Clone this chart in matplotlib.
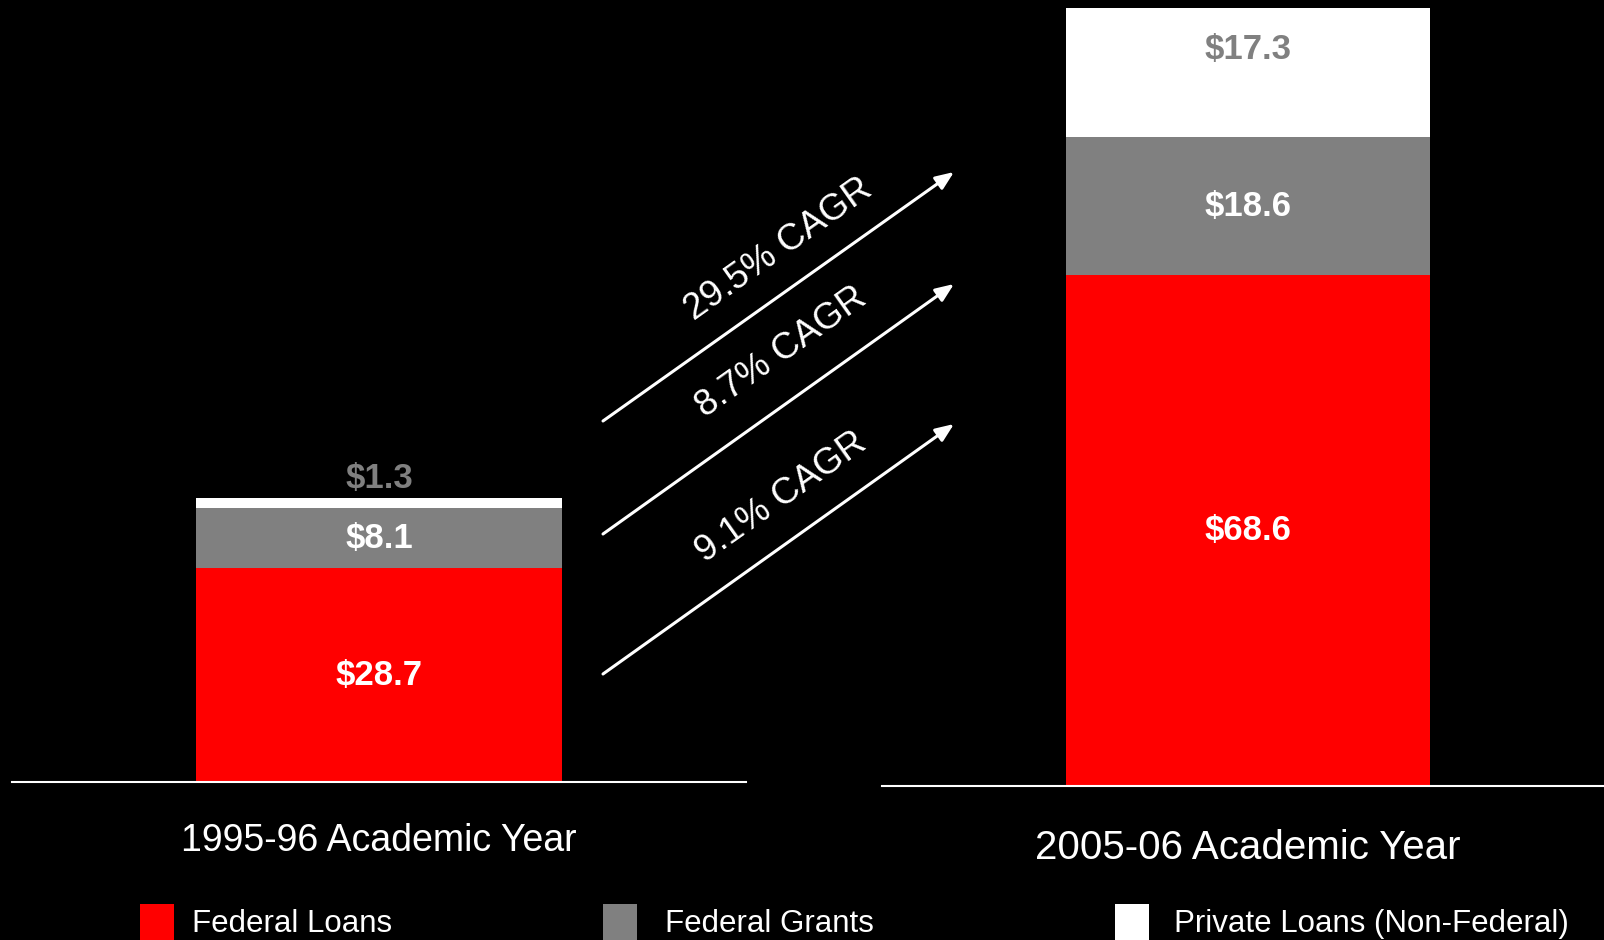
import matplotlib
matplotlib.use("Agg")
import matplotlib.pyplot as plt
from matplotlib.patches import Rectangle

plt.rcParams['font.family'] = ['Liberation Sans', 'DejaVu Sans']

# ---- data (US$ billions) ----
years = ["1995-96 Academic Year", "2005-06 Academic Year"]
series = ["Federal Loans", "Federal Grants", "Private Loans (Non-Federal)"]
federal_loans = [28.7, 68.6]
federal_grants = [8.1, 18.6]
private_loans = [1.3, 17.3]
cagr_labels = ["29.5% CAGR", "8.7% CAGR", "9.1% CAGR"]

# ---- styling ----
colors = ["#FF0000", "#808080", "#FFFFFF"]
value_colors = ["white", "white", "#808080"]

W, H = 1604, 940
PX_PER_UNIT = 7.445

fig = plt.figure(figsize=(W / 100, H / 100), dpi=100, facecolor="black")


def px_axes(left, right, bottom, top=0):
    return fig.add_axes([left / W, 1 - bottom / H, (right - left) / W, (bottom - top) / H])


panels = [
    dict(left=12, right=746, base=782, center=0.5, width=0.4986,
         label_dy=69, label_size=27),
    dict(left=882, right=1604, base=786, center=0.507, width=0.504,
         label_dy=73, label_size=29),
]
stacks = [federal_loans, federal_grants, private_loans]

for i, p in enumerate(panels):
    ax = px_axes(p["left"], p["right"], p["base"])
    ax.set_facecolor("black")
    ax.set_xlim(0, 1)
    ax.set_ylim(0, p["base"] / PX_PER_UNIT)
    bottom = 0.0
    for s, vals in enumerate(stacks):
        v = vals[i]
        ax.bar(p["center"], v, width=p["width"], bottom=bottom,
               color=colors[s], linewidth=0, zorder=2)
        if v <= 4:
            # thin block: label rests just above it
            y, va = bottom + v + 0.4, "bottom"
        elif s == len(stacks) - 1:
            # top block: label sits in its upper part
            y, va = bottom + v * 0.68, "center"
        else:
            y, va = bottom + v / 2, "center"
        ax.text(p["center"], y, f"${v:.1f}", ha="center", va=va,
                color=value_colors[s], fontsize=25, fontweight="bold", zorder=3)
        bottom += v
    for sp in ("top", "left", "right"):
        ax.spines[sp].set_visible(False)
    ax.spines["bottom"].set_color("white")
    ax.spines["bottom"].set_linewidth(1.5)
    ax.spines["bottom"].set_zorder(4)
    ax.set_xticks([])
    ax.set_yticks([])
    ax.annotate(years[i], xy=(p["center"], 0), xycoords=("data", "axes fraction"),
                xytext=(0, -p["label_dy"]), textcoords="offset pixels",
                ha="center", va="baseline", color="white", fontsize=p["label_size"],
                annotation_clip=False)

# ---- overlay for growth arrows and legend ----
ov = fig.add_axes([0, 0, 1, 1], zorder=10)
ov.set_xlim(0, W)
ov.set_ylim(H, 0)
ov.axis("off")
ov.patch.set_alpha(0)

arrow_tails = [(603, 421), (603, 534), (603, 674)]
arrow_heads = [(954, 172), (954, 284), (954, 424)]
cagr_pos = [(779, 250), (781, 352), (781, 497)]
for (tail, head, txt, pos) in zip(arrow_tails, arrow_heads, cagr_labels, cagr_pos):
    ov.annotate("", xy=head, xytext=tail,
                arrowprops=dict(arrowstyle="-|>,head_length=1.1,head_width=0.45",
                                mutation_scale=10, color="white", lw=2.2,
                                shrinkA=0, shrinkB=0))
    ov.text(pos[0], pos[1], txt, rotation=35.3, rotation_mode="anchor",
            ha="center", va="center", color="white", fontsize=26.5)

legend_box_x = [140, 603, 1115]
legend_text_x = [192, 665, 1174]
for s, name in enumerate(series):
    ov.add_patch(Rectangle((legend_box_x[s], 904), 34, 40, facecolor=colors[s],
                           edgecolor="none"))
    ov.text(legend_text_x[s], 932, name, ha="left", va="baseline",
            color="white", fontsize=22.5)

fig.savefig("out.png", dpi=100, facecolor="black")
